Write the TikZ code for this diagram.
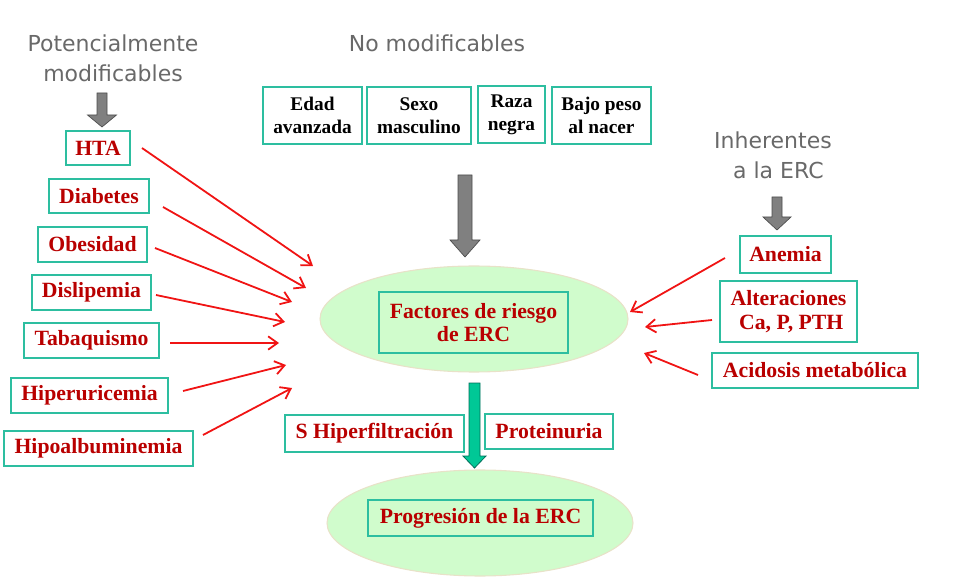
\documentclass[tikz,border=0pt]{standalone}
\usepackage{fontspec}
\setmainfont{Liberation Serif}
\newfontfamily\headfont{DejaVu Sans}
\usetikzlibrary{arrows.meta}
\definecolor{boxc}{RGB}{45,190,160}
\definecolor{redtext}{RGB}{185,0,0}
\definecolor{redline}{RGB}{240,20,20}
\definecolor{headgray}{RGB}{105,105,105}
\definecolor{ellfill}{RGB}{208,252,204}
\definecolor{elldraw}{RGB}{232,226,200}
\definecolor{arrgray}{RGB}{128,128,128}
\definecolor{arrgreen}{RGB}{0,200,150}
\definecolor{arrgreend}{RGB}{0,110,90}
\newcommand{\myblockarrow}[7]{%
  \draw[#7] (#1-#5,#2) -- (#1+#5,#2) -- (#1+#5,#3) -- (#1+#6,#3) -- (#1,#4)
    -- (#1-#6,#3) -- (#1-#5,#3) -- cycle;}
\tikzset{
  sz/.style 2 args={minimum width=#1*0.75pt, minimum height=#2*0.75pt},
  box/.style={draw=boxc, line width=0.8pt, inner sep=0pt,
    align=center, text=redtext, font=\bfseries\fontsize{16.3}{17.5}\selectfont},
  topbox/.style={box, text=black, font=\bfseries\fontsize{14.5}{17}\selectfont},
  head/.style={text=headgray, align=center, font=\headfont\fontsize{16.5}{22.5}\selectfont},
  riskarrow/.style={draw=redline, line width=1.35pt, -{Straight Barb[length=7pt,width=10pt]}},
  grayblock/.style={fill=arrgray, draw=black!70, line width=0.5pt},
  greenblock/.style={fill=arrgreen, draw=arrgreend, line width=0.6pt}
}
\begin{document}
\begin{tikzpicture}[x=0.75pt,y=-0.75pt]
\useasboundingbox (0,0) rectangle (965,588);
% ellipses
\fill[ellfill, draw=elldraw, line width=0.8pt] (474,319) ellipse [x radius=154, y radius=53];
\fill[ellfill, draw=elldraw, line width=0.8pt] (480,523) ellipse [x radius=153, y radius=53];
% headers
\node[head] (hpot) at (113,58) {Potencialmente\\modificables};
\node[head] (hno) at (437,43) {No modificables};
\node[head] (hinh) at (773,155) {Inherentes\\\ \,a la ERC};
% block arrows
\myblockarrow{102}{93}{115}{127}{5}{14.5}{grayblock}
\myblockarrow{465}{175}{240}{257}{7}{15}{grayblock}
\myblockarrow{777}{197}{217}{230}{5}{14}{grayblock}
\myblockarrow{474.5}{383}{456}{468}{5.5}{11.5}{greenblock}
% top boxes
\node[topbox, sz={99}{57}] (edad) at (312.5,115.5) {Edad\\avanzada};
\node[topbox, sz={104}{57}] (sexo) at (419,115.5) {Sexo\\masculino};
\node[topbox, sz={67}{57}] (raza) at (511.5,114.5) {Raza\\negra};
\node[topbox, sz={99}{57}] (bajo) at (601.5,115.5) {Bajo peso\\al nacer};
% left boxes
\node[box, sz={64}{34}] (hta) at (98,148) {HTA};
\node[box, sz={100}{34}] (diab) at (99,196) {Diabetes};
\node[box, sz={109}{35}] (obes) at (92.5,244.5) {Obesidad};
\node[box, sz={119}{35}] (disl) at (91.5,292.5) {Dislipemia};
\node[box, sz={135}{35}] (taba) at (91.5,340.5) {Tabaquismo};
\node[box, sz={157}{35}] (hiper) at (89.5,395.5) {Hiperuricemia};
\node[box, sz={189}{35}] (hipo) at (98.5,448.5) {Hipoalbuminemia};
% right boxes
\node[box, sz={91}{37}] (anem) at (785.5,254.5) {Anemia};
\node[box, sz={137}{61}] (alt) at (788.5,311.5) {Alteraciones\\\ Ca, P, PTH};
\node[box, sz={206}{35}] (acid) at (815,370.5) {Acidosis metabólica};
% center boxes
\node[box, sz={189}{61}] (fact) at (473.5,322.5) {Factores de riesgo\\de ERC};
\node[box, sz={225}{36}] (prog) at (480.5,518) {Progresión de la ERC};
\node[box, sz={179}{37}] (shf) at (374.5,433.5) {S Hiperfiltración};
\node[box, sz={128}{35}] (prot) at (549,431.5) {Proteinuria};
% arrow end points
\coordinate (hta-s) at (142,148);   \coordinate (hta-e) at (313,266);
\coordinate (diab-s) at (163,207);  \coordinate (diab-e) at (306,288);
\coordinate (obes-s) at (155,248);  \coordinate (obes-e) at (292,302);
\coordinate (disl-s) at (156,295);  \coordinate (disl-e) at (285,322);
\coordinate (taba-s) at (170,343);  \coordinate (taba-e) at (279,343);
\coordinate (hiper-s) at (183,391); \coordinate (hiper-e) at (286,365);
\coordinate (hipo-s) at (203,435);  \coordinate (hipo-e) at (292,388);
\coordinate (anem-s) at (725,258);  \coordinate (anem-e) at (630,312);
\coordinate (alt-s) at (712,320);   \coordinate (alt-e) at (645,327);
\coordinate (acid-s) at (698,375);  \coordinate (acid-e) at (644,353);
\foreach \n in {hta,diab,obes,disl,taba,hiper,hipo,anem,alt,acid}
  \draw[riskarrow] (\n-s) -- (\n-e);
\end{tikzpicture}
\end{document}
